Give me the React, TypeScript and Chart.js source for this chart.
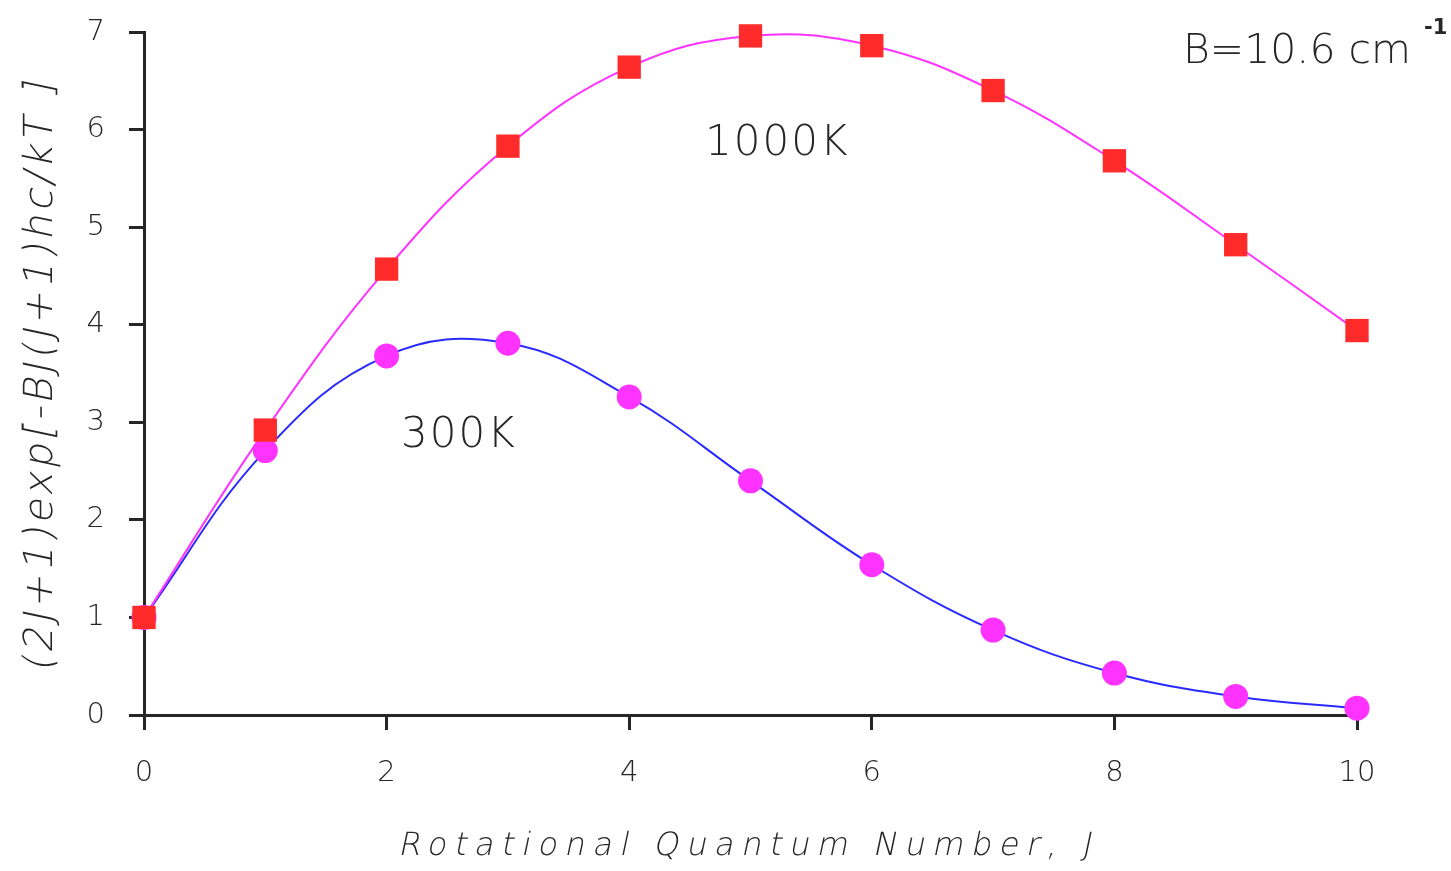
import React, { useEffect, useRef } from 'react';
import { Chart, registerables } from 'chart.js';

Chart.register(...registerables);

// Rotational quantum number J
const J: number[] = [0, 1, 2, 3, 4, 5, 6, 7, 8, 9, 10];
// (2J+1)exp[-BJ(J+1)hc/kT]
const pop1000K: number[] = [1.0, 2.92, 4.57, 5.83, 6.64, 6.96, 6.86, 6.4, 5.68, 4.82, 3.94];
const pop300K: number[] = [1.0, 2.71, 3.68, 3.81, 3.26, 2.4, 1.54, 0.87, 0.43, 0.19, 0.07];

const xTitle = 'Rotational Quantum Number, J';
const yTitle = '(2J+1)exp[-BJ(J+1)hc/kT ]';
const label1000 = '1000K';
const label300 = '300K';
const constantLabel = 'B=10.6 cm';
const constantSup = '-1';

const INK = '#262626';
const FONT = '"DejaVu Sans", sans-serif';
const SLANT = -0.21;

const textPlugin = {
  id: 'customTexts',
  afterDraw(chart: any) {
    const ctx: CanvasRenderingContext2D = chart.ctx;
    ctx.save();
    ctx.fillStyle = INK;
    ctx.textBaseline = 'alphabetic';
    ctx.textAlign = 'left';

    // x title (slanted light face)
    ctx.save();
    ctx.font = `200 32px ${FONT}`;
    (ctx as any).letterSpacing = '7.5px';
    const wX = ctx.measureText(xTitle).width;
    ctx.translate(748, 855);
    ctx.transform(1, 0, SLANT, 1, 0, 0);
    ctx.fillText(xTitle, -wX / 2, 0);
    ctx.restore();

    // y title (rotated, slanted)
    ctx.save();
    ctx.font = `200 40px ${FONT}`;
    (ctx as any).letterSpacing = '3.5px';
    const wY = ctx.measureText(yTitle).width;
    ctx.translate(52, 376);
    ctx.rotate(-Math.PI / 2);
    ctx.transform(1, 0, SLANT, 1, 0, 0);
    ctx.fillText(yTitle, -wY / 2, 0);
    ctx.restore();

    // series labels
    (ctx as any).letterSpacing = '2px';
    ctx.font = `200 42px ${FONT}`;
    ctx.fillText(label1000, 705, 155);
    ctx.fillText(label300, 401, 447);

    // constant
    (ctx as any).letterSpacing = '0px';
    ctx.font = `200 41px ${FONT}`;
    ctx.fillText(constantLabel, 1183, 63);
    ctx.font = `bold 21px ${FONT}`;
    ctx.fillText(constantSup, 1424, 34);
    ctx.restore();
  },
};

export default function App() {
  const ref = useRef<HTMLCanvasElement | null>(null);

  useEffect(() => {
    if (!ref.current) return;
    const chart = new Chart(ref.current, {
      type: 'line',
      data: {
        datasets: [
          {
            label: '1000K',
            data: J.map((j, i) => ({ x: j, y: pop1000K[i] })),
            borderColor: '#ff33ff',
            borderWidth: 2,
            backgroundColor: '#ff2a2a',
            pointStyle: 'rect',
            pointRadius: 16.5,
            pointBorderWidth: 0,
            pointBackgroundColor: '#ff2a2a',
            tension: 0.4,
            clip: false as any,
          },
          {
            label: '300K',
            data: J.map((j, i) => ({ x: j, y: pop300K[i] })),
            borderColor: '#2a2aff',
            borderWidth: 2,
            backgroundColor: '#ff33ff',
            pointStyle: 'circle',
            pointRadius: 12.5,
            pointBorderWidth: 0,
            pointBackgroundColor: '#ff33ff',
            tension: 0.4,
            clip: false as any,
          },
        ],
      },
      options: {
        animation: false,
        responsive: true,
        maintainAspectRatio: false,
        layout: { padding: { top: 32, right: 94, left: 0, bottom: 0 } },
        plugins: {
          legend: { display: false },
          tooltip: { enabled: false },
          title: { display: false },
        },
        scales: {
          x: {
            type: 'linear',
            min: 0,
            max: 10,
            afterFit: (s: any) => {
              s.height = 156;
              s.paddingLeft = 0;
              s.paddingRight = 0;
            },
            ticks: {
              stepSize: 2,
              color: INK,
              padding: 26,
              font: { family: FONT, size: 29, weight: '200' as any },
              maxRotation: 0,
            },
            grid: {
              drawOnChartArea: false,
              drawTicks: true,
              tickLength: 15,
              tickWidth: 3,
              tickColor: INK,
              color: INK,
              lineWidth: 3,
            },
            border: { display: true, color: INK, width: 3 },
            title: { display: false },
          },
          y: {
            type: 'linear',
            min: 0,
            max: 7,
            afterFit: (s: any) => {
              s.width = 144;
              s.paddingTop = 0;
              s.paddingBottom = 0;
            },
            ticks: {
              stepSize: 1,
              color: INK,
              padding: 24,
              font: { family: FONT, size: 29, weight: '200' as any },
            },
            grid: {
              drawOnChartArea: false,
              drawTicks: true,
              tickLength: 15,
              tickWidth: 3,
              tickColor: INK,
              color: INK,
              lineWidth: 3,
            },
            border: { display: true, color: INK, width: 3 },
            title: { display: false },
          },
        },
      },
      plugins: [textPlugin],
    });
    return () => chart.destroy();
  }, []);

  return (
    <div style={{ position: 'fixed', left: 0, top: 0, width: 1451, height: 871, background: '#fff' }}>
      <canvas ref={ref} />
    </div>
  );
}
